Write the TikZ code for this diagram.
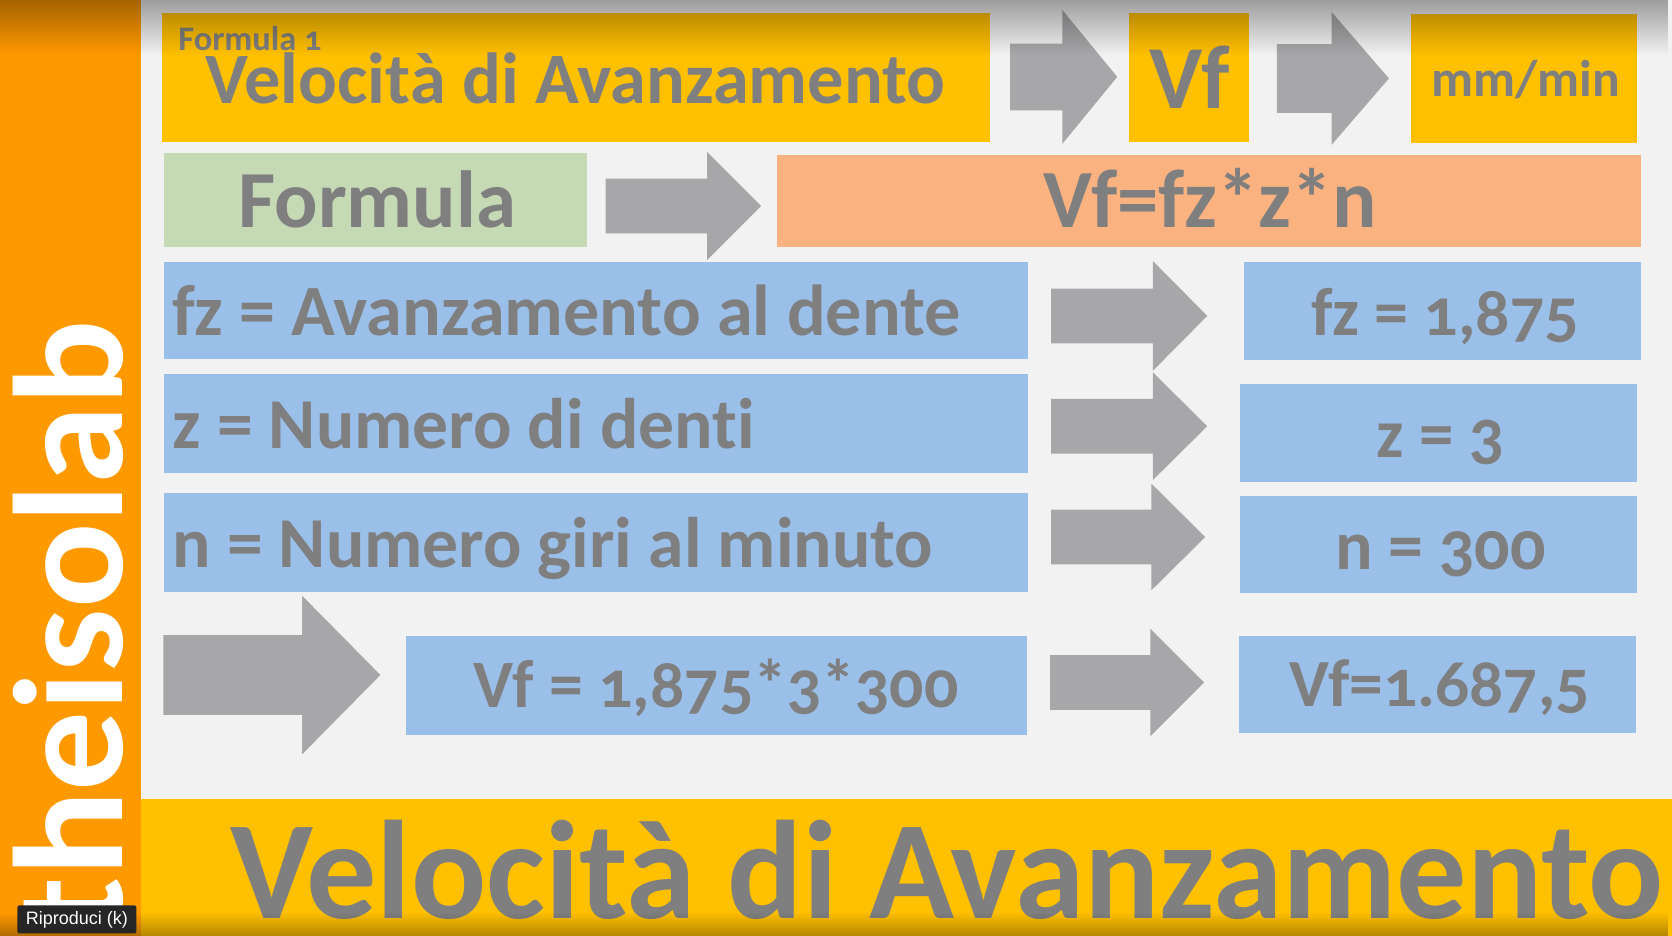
\documentclass[tikz,border=0pt]{standalone}
\usepackage{fontspec}
\setmainfont[Numbers=OldStyle,Ligatures=NoCommon]{Carlito}
\newfontfamily\brandfont[FakeStretch=1.02]{Carlito}
\newfontfamily\playerfont{Liberation Sans}
\usetikzlibrary{positioning,shapes.arrows,fadings}
\definecolor{pagegray}{HTML}{F2F2F3}
\definecolor{sideorange}{HTML}{FF9900}
\definecolor{headyellow}{HTML}{FFC000}
\definecolor{formgreen}{HTML}{C5D9B5}
\definecolor{formorange}{HTML}{FBB281}
\definecolor{rowblue}{HTML}{9ABFE8}
\definecolor{arrowgray}{HTML}{A7A6A8}
\definecolor{textgray}{HTML}{7F7F80}
\tikzset{
	x=0.5pt, y=-0.5pt,
	panel/.style 2 args = {rectangle, inner sep=0, minimum width=#1*0.5pt, minimum height=#2*0.5pt},
	yellowpanel/.style 2 args = {panel={#1}{#2}, fill=headyellow},
	bluepanel/.style 2 args = {panel={#1}{#2}, fill=rowblue},
	blockarrow/.style n args = {4}{single arrow, fill=arrowgray, inner sep=0, text width=0pt,
		minimum height=#1*0.5pt, text height=#3*0.5pt, text depth=0pt,
		single arrow head extend={(#2-#3)*0.25pt}, single arrow head indent=0pt,
		single arrow tip angle={2*atan(#2/2/#4)}},
	caption/.style = {anchor=base west, inner sep=0, text=textgray, font=\bfseries\fontsize{#1}{#1}\selectfont},
}

\begin{document}
\begin{tikzpicture}
	\useasboundingbox (0,0) rectangle (1672,936);
	\fill [pagegray] (0,0) rectangle (1672,936);
	\fill [sideorange] (0,0) rectangle (141,936);
	\fill [headyellow] (141,799) rectangle (1672,936);

	\node (velbox) [yellowpanel={828}{129}, anchor=north west] at (161.5,13) {};
	\node (arrowa) [blockarrow={107}{133}{66}{54.5}, right=9.75pt of velbox, yshift=0.5pt] {};
	\node (vfbox) [yellowpanel={120}{129}, right=5.5pt of arrowa, yshift=-0.5pt] {};
	\node (arrowb) [blockarrow={112}{132}{68}{57}, right=13.5pt of vfbox, yshift=-0.25pt] {};
	\node (unitbox) [yellowpanel={226}{129}, right=10.75pt of arrowb, yshift=-0.25pt] {};

	\node (formbox) [panel={422.5}{94}, fill=formgreen, anchor=north west] at (164,153) {};
	\node (arrowc) [blockarrow={155.4}{107}{54}{53.5}, right=9pt of formbox, yshift=-2.75pt] {};
	\node (rulebox) [panel={864}{92}, fill=formorange, right=7.5pt of arrowc, yshift=2.25pt] {};

	\node (fzbox) [bluepanel={863.4}{97}, anchor=north west] at (164,262) {};
	\node (zbox) [bluepanel={863.4}{99}, below=6.75pt of fzbox] {};
	\node (nbox) [bluepanel={863.4}{99}, below=9.5pt of zbox] {};
	\node (arrowd) [blockarrow={156}{109}{54}{54}, right=11.3pt of fzbox, yshift=-2.5pt] {};
	\node (fzval) [bluepanel={397}{98}, right=18pt of arrowd, yshift=2.25pt] {};
	\node (arrowe) [blockarrow={156}{107}{54}{54}, right=11.3pt of zbox, yshift=-1.5pt] {};
	\node (zval) [bluepanel={397}{98}, right=16pt of arrowe, yshift=-3.5pt] {};
	\node (arrowf) [blockarrow={154}{106}{54}{53.5}, right=11.3pt of nbox, yshift=2.5pt] {};
	\node (nval) [bluepanel={397}{97}, right=17pt of arrowf, yshift=-3.75pt] {};

	\node (arrowg) [blockarrow={217}{158}{79}{78}, anchor=west] at (163,675) {};
	\node (calcbox) [bluepanel={621}{99}, right=12.5pt of arrowg, yshift=-5.25pt] {};
	\node (arrowh) [blockarrow={154}{107}{54}{53.5}, right=11pt of calcbox, yshift=1.5pt] {};
	\node (resbox) [bluepanel={397}{97}, right=16.8pt of arrowh, yshift=-1pt] {};

	\node (fone) [caption=17.2] at (178,51) {Formula 1};
	\node (vel) [caption=36.2] at (205,104) {Velocità di Avanzamento};
	\node (vf) [caption=45] at (1149,109) {Vf};
	\node (unit) [caption=25.8] at (1431,97) {mm/min};
	\node (form) [caption=40.5] at (238,228) {Formula};
	\node (rule) [caption=41.4] at (1043,228) {Vf=fz*z*n};
	\node (fzname) [caption=36.1] at (172,336) {fz = Avanzamento al dente};
	\node (fzvalue) [caption=34] at (1311,336) {fz = 1,875};
	\node (zname) [caption=35.8] at (172,449) {z = Numero di denti};
	\node (zvalue) [caption=34.5] at (1376,458) {z = 3};
	\node (nname) [caption=35.8] at (172,567) {n = Numero giri al minuto};
	\node (nvalue) [caption=35] at (1335,569) {n = 300};
	\node (calc) [caption=33.9] at (473,707) {Vf = 1,875*3*300};
	\node (res) [caption=33.7] at (1289,706) {Vf=1.687,5};
	\node (band) [caption=70.1] at (230,918) {Velocità di Avanzamento};

	\node (brand) [anchor=base east, rotate=90, inner sep=0, text=white, font=\brandfont\bfseries\fontsize{78}{78}\selectfont] at (122,320) {theisolab};

	\fill [black, opacity=0.35, path fading=south] (0,0) rectangle (1672,55);
	\fill [black, opacity=0.3, path fading=north] (0,912) rectangle (1672,936);

	\node (tip) [rectangle, rounded corners=1pt, fill=black!85, text=white, inner sep=0, minimum width=59.5pt, minimum height=14pt, anchor=north west, font=\playerfont\fontsize{9}{9}\selectfont] at (17,905) {Riproduci (k)};
\end{tikzpicture}
\end{document}
